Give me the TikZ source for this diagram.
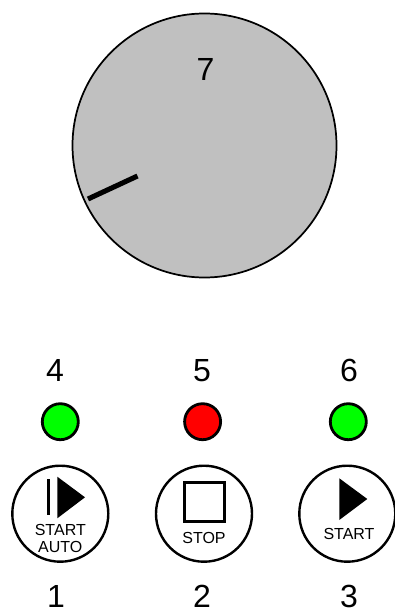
\documentclass[tikz,border=0pt]{standalone}
\usepackage{fontspec}
\setmainfont{Liberation Sans}
\usepackage{xcolor}
\definecolor{knobgray}{RGB}{192,192,192}
\definecolor{ledgreen}{RGB}{0,255,0}
\definecolor{ledred}{RGB}{255,0,0}
\tikzset{
  knob/.style={draw=black, fill=knobgray, circle, line width=1.3pt, inner sep=0pt, minimum size=198pt},
  led/.style={draw=black, circle, line width=2.1pt, inner sep=0pt, minimum size=27pt},
  pushbtn/.style={draw=black, fill=white, circle, line width=1.8pt, inner sep=0pt, minimum size=72pt},
  number/.style={font=\fontsize{24}{24}\selectfont, inner sep=0pt},
  caption/.style={font=\fontsize{12}{12.5}\selectfont, inner sep=0pt, align=center}
}
\begin{document}
\begin{tikzpicture}[x=0.75pt, y=-0.75pt]
    \useasboundingbox (0,0) rectangle (395,610);
    % selector
    \node[knob] (dial) at (204.5,145.5) {};
    \node[number] (num7) at (205.5,69) {7};
    \draw[line width=3.8pt] (137.5,176) -- (88,199);
    % lamps
    \node[led, fill=ledgreen] (lamp4) at (60.3,421.7) {};
    \node[led, fill=ledred] (lamp5) at (202.6,421.7) {};
    \node[led, fill=ledgreen] (lamp6) at (348.3,421.7) {};
    \node[number] (num4) at (55,370.5) {4};
    \node[number] (num5) at (202,370.5) {5};
    \node[number] (num6) at (349,370.5) {6};
    % push buttons
    \node[pushbtn] (btn1) at (60.3,513.7) {};
    \node[pushbtn] (btn2) at (204,513.7) {};
    \node[pushbtn] (btn3) at (347.3,513.7) {};
    \fill (46.7,479) rectangle (50.3,515);
    \fill (57.3,476.7) -- (85,497.3) -- (57.3,518.3) -- cycle;
    \draw[line width=2.1pt] (184.5,482.2) rectangle (224.5,521.5);
    \fill (339.3,478.3) -- (367.3,499) -- (339.3,520) -- cycle;
    \node[caption] (txt1) at (60.3,538.5) {START\\AUTO};
    \node[caption] (txt2) at (204,537.7) {STOP};
    \node[caption] (txt3) at (349,534) {START};
    \node[number] (num1) at (56,596) {1};
    \node[number] (num2) at (202,596) {2};
    \node[number] (num3) at (349,596) {3};
\end{tikzpicture}
\end{document}
